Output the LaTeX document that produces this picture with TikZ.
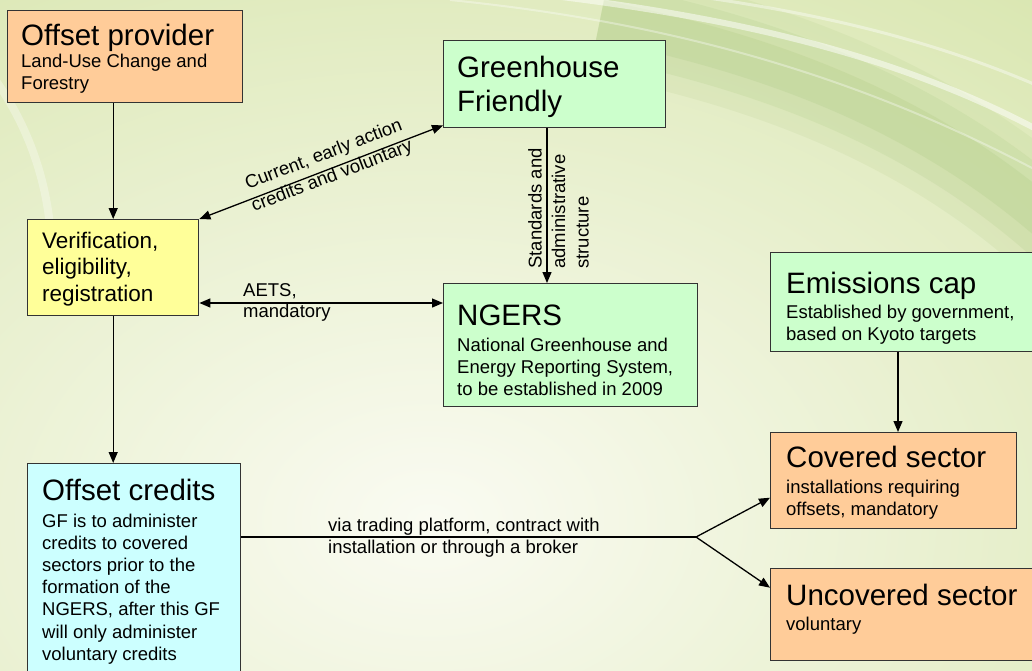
\documentclass[tikz,border=0pt]{standalone}
\usepackage{fontspec}
\setmainfont{Liberation Sans}
\usetikzlibrary{arrows.meta,calc}
\definecolor{peach}{HTML}{FFCC99}
\definecolor{lgreen}{HTML}{CCFFCC}
\definecolor{lyellow}{HTML}{FFFF99}
\definecolor{lcyan}{HTML}{CCFFFF}
\definecolor{boxline}{HTML}{333333}
\definecolor{bgA}{HTML}{CFE09C}
\definecolor{bgW}{HTML}{FAFBF2}
\definecolor{bgD}{HTML}{A3C277}
\begin{document}
\begin{tikzpicture}[x=1pt,y=-1pt,
  box/.style={draw=boxline, line width=1.4pt, inner sep=0pt, anchor=north west},
  ttl/.style={anchor=base west, inner sep=0pt, font=\fontsize{29.5}{34}\selectfont, align=left},
  bdy/.style={anchor=base west, inner sep=0pt, font=\fontsize{18.5}{22.2}\selectfont, align=left},
  lbl/.style={inner sep=0pt, font=\fontsize{18.5}{20.5}\selectfont, align=left},
  conn/.style={line width=1.3pt, -{Triangle[length=11pt,width=9pt]}},
  conntwo/.style={line width=1.3pt, {Triangle[length=11pt,width=9pt]}-{Triangle[length=11pt,width=9pt]}}]

\useasboundingbox (0,0) rectangle (1032,670);
\begin{scope}
  \clip (0,0) rectangle (1032,670);
  \fill[bgA] (0,0) rectangle (1032,670);
  \shade[inner color=bgW, outer color=bgA] (430,520) ellipse [x radius=1300, y radius=900];
  \foreach \w/\o in {110/0.12, 75/0.16, 40/0.2}
    \draw[line width=\w, bgD, opacity=\o] (600,20) .. controls (800,60) and (960,130) .. (1090,260);
  \draw[white, opacity=0.5, line width=6] (500,-10) .. controls (740,15) and (930,60) .. (1090,160);
  \draw[white, opacity=0.4, line width=3] (600,-15) .. controls (800,5) and (950,40) .. (1090,110);
  \draw[white, opacity=0.35, line width=2] (450,0) .. controls (700,25) and (900,90) .. (1090,200);
  \draw[white, opacity=0.3, line width=8] (-20,60) .. controls (30,120) and (60,200) .. (50,300);
\end{scope}

% boxes
\node[box, fill=peach, minimum width=235, minimum height=92] (prov) at (7,10) {};
\node[box, fill=lgreen, minimum width=222, minimum height=87] (gf) at (443,40) {};
\node[box, fill=lyellow, minimum width=171, minimum height=96] (ver) at (27,219) {};
\node[box, fill=lgreen, minimum width=254, minimum height=123] (ngers) at (443,283) {};
\node[box, fill=lgreen, minimum width=275, minimum height=99] (cap) at (770,252) {};
\node[box, fill=peach, minimum width=246, minimum height=96] (cov) at (770,432) {};
\node[box, fill=peach, minimum width=275, minimum height=92] (unc) at (770,568) {};
\node[box, fill=lcyan, minimum width=213, minimum height=220] (cred) at (27,463) {};

% texts (base anchor = baseline of the last line)
\node[ttl] (provT) at (21,45) {Offset provider};
\node[bdy] (provB) at (21,89.2) {Land-Use Change and\\Forestry};
\node[ttl] (gfT) at (457,111) {Greenhouse\\Friendly};
\node[ttl, font=\fontsize{22.5}{26.5}\selectfont] (verT) at (42,301) {Verification,\\eligibility,\\registration};
\node[ttl] (ngersT) at (457,325) {NGERS};
\node[bdy] (ngersB) at (457,395.4) {National Greenhouse and\\Energy Reporting System,\\to be established in 2009};
\node[ttl] (capT) at (786,293) {Emissions cap};
\node[bdy] (capB) at (786,340.2) {Established by government,\\based on Kyoto targets};
\node[ttl] (covT) at (786,467) {Covered sector};
\node[bdy] (covB) at (786,515.2) {installations requiring\\offsets, mandatory};
\node[ttl] (uncT) at (786,605) {Uncovered sector};
\node[bdy] (uncB) at (786,630) {voluntary};
\node[ttl] (credT) at (42,500) {Offset credits};
\node[bdy] (credB) at (42,660.2) {GF is to administer\\credits to covered\\sectors prior to the\\formation of the\\NGERS, after this GF\\will only administer\\voluntary credits};

% connector labels
\node[lbl, anchor=base west] (aetsL) at (243,317) {AETS,\\mandatory};
\node[lbl, anchor=base west, font=\fontsize{18.5}{22.2}\selectfont] (tradeL) at (328,553.2) {via trading platform, contract with\\installation or through a broker};
\node[lbl, rotate=21, align=center, font=\fontsize{18.5}{23}\selectfont] (curL) at (328,166) {Current, early action\\credits and voluntary};
\node[lbl, rotate=90, align=left, font=\fontsize{18.5}{23.5}\selectfont] (stdL) at (558.5,208.5) {Standards and\\administrative\\structure};

% connectors
\coordinate (sx) at (547,0);
\coordinate (ay) at (0,303);
\coordinate (cx) at (898,0);
\coordinate (jn) at (696,537);
\draw[conn] (prov.south -| ver.north) -- (ver.north);
\draw[conntwo] (ver.north east) -- ($(gf.south west)+(0,-3)$);
\draw[conn] (gf.south -| sx) -- (ngers.north -| sx);
\draw[conntwo] (ver.east |- ay) -- (ngers.west |- ay);
\draw[conn] (ver.south) -- (ver.south |- cred.north);
\draw[conn] (cap.south -| cx) -- (cov.north -| cx);
\draw[line width=1.3pt] (cred.east |- jn) -- (jn);
\draw[conn] (jn) -- ($(cov.west)+(0,17)$);
\draw[conn] (jn) -- ($(unc.west)+(0,-27)$);
\end{tikzpicture}
\end{document}
